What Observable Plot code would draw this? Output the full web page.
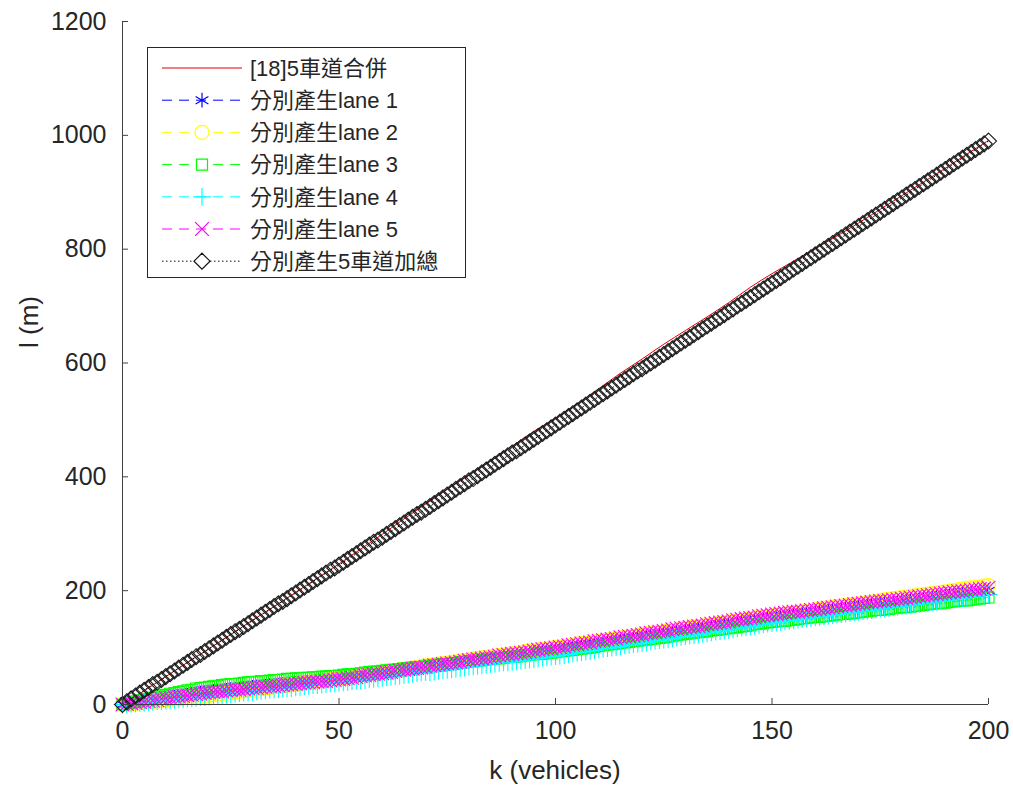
<!DOCTYPE html>
<html><head><meta charset="utf-8">
<script src="https://cdn.jsdelivr.net/npm/d3@7"></script>
<script src="https://cdn.jsdelivr.net/npm/@observablehq/plot@0.6"></script>
<style>
body{margin:0;background:#fff}
#chart{position:relative;width:1013px;height:791px;background:#fff}
</style>
</head><body><div id="chart"></div>
<script>
// ---- data ----
const kLanes = d3.range(0, 201, 1);      // k (vehicles) for lane series & sum
const kRed = d3.range(0, 201, 5);        // k (vehicles) for the [18] curve

const red18 = [0,24,49,74,98,123,148,172,197,222,247,273,299,326,352,378,403,428,454,480,503,528,555,582,607,633,657,681,706,733,757,779,801,823,846,870,894,918,942,967,991];

const lane1 = [0,1,2,3,4,6,7,8,9,10,11,
  12,13,14,15,16,18,19,20,21,22,
  23,24,24,25,26,27,27,28,29,30,
  31,31,32,33,33,34,35,36,36,37,
  38,39,39,40,41,42,42,43,44,45,
  46,47,48,49,50,51,52,53,54,55,
  56,57,58,60,61,62,63,64,65,66,
  67,68,69,70,71,72,73,74,75,76,
  77,78,79,80,81,82,83,85,86,87,
  88,89,90,91,92,93,94,95,96,97,
  98,99,100,101,103,104,105,106,107,108,
  109,110,111,112,113,114,116,117,118,119,
  120,121,122,123,124,125,126,128,129,130,
  131,132,133,134,135,136,138,139,140,141,
  142,143,144,145,146,147,149,150,151,152,
  153,154,155,156,157,158,159,160,161,162,
  162,163,164,165,166,167,168,169,170,171,
  172,173,174,175,176,177,178,179,180,181,
  182,183,183,184,185,186,187,188,189,190,
  191,192,193,194,195,196,197,198,199,200];
const lane2 = [0,1,2,2,3,4,5,6,6,7,8,
  9,10,10,11,12,13,13,14,15,16,
  17,18,19,20,21,22,23,24,25,26,
  27,28,29,30,31,32,33,34,35,36,
  37,38,39,40,41,42,43,44,45,46,
  47,48,49,50,51,52,54,55,56,57,
  58,59,60,61,62,63,64,65,67,68,
  69,70,71,72,73,74,75,76,77,78,
  80,81,82,83,84,85,86,87,88,89,
  90,91,93,94,95,96,97,98,99,100,
  101,102,103,104,106,107,108,109,110,111,
  112,113,115,116,117,118,119,120,121,122,
  124,125,126,127,128,129,130,131,133,134,
  135,136,137,138,139,140,142,143,144,145,
  146,147,148,149,151,152,153,154,155,156,
  157,158,159,160,161,162,163,164,165,166,
  168,169,170,171,172,173,174,175,176,177,
  178,179,180,181,183,184,185,186,187,188,
  189,190,191,192,193,194,195,196,197,198,
  199,200,202,203,204,205,206,207,208,209];
const lane3 = [0,2,3,5,7,9,10,12,14,16,17,
  19,20,22,23,25,26,28,29,30,31,
  32,33,34,35,36,36,37,38,39,39,
  40,41,41,42,43,43,44,45,45,46,
  46,47,47,48,48,49,49,50,50,51,
  52,53,53,54,55,56,57,58,58,59,
  60,61,61,62,63,64,65,66,66,67,
  68,69,70,71,71,72,73,74,75,76,
  76,77,78,79,80,81,81,82,83,84,
  84,85,86,87,88,89,89,90,91,92,
  93,94,95,96,97,98,99,100,101,103,
  104,105,106,107,108,109,110,111,112,113,
  114,115,116,117,118,119,120,122,123,124,
  125,126,127,128,129,130,131,132,133,134,
  135,136,137,138,139,141,142,143,144,145,
  146,147,147,148,149,150,151,152,153,154,
  154,155,156,157,158,159,159,160,161,162,
  163,164,165,166,166,167,168,169,170,171,
  171,172,173,174,175,176,177,178,178,179,
  180,181,182,183,183,184,185,186,187,188];
const lane4 = [0,0,1,2,3,3,4,5,6,6,7,
  7,8,9,10,11,11,12,13,13,14,
  15,16,16,17,18,19,20,21,21,22,
  23,24,25,26,26,27,28,29,29,30,
  31,32,33,34,34,35,36,37,37,38,
  39,40,41,42,42,43,44,45,46,47,
  48,49,50,51,52,53,54,55,56,57,
  57,58,59,60,61,62,63,64,65,66,
  67,68,69,70,71,72,73,74,74,75,
  76,77,78,79,80,81,82,83,84,85,
  86,87,88,90,91,92,93,94,95,97,
  98,99,100,101,102,104,105,106,107,108,
  109,111,112,113,114,115,116,118,119,120,
  121,122,123,124,125,127,128,129,130,131,
  132,134,135,136,137,138,139,141,142,143,
  144,145,146,147,148,149,150,151,152,153,
  154,155,156,157,158,159,160,161,162,163,
  164,165,166,167,168,169,170,171,172,173,
  174,175,176,177,178,179,180,181,182,183,
  184,185,186,187,188,189,190,191,192,193];
const lane5 = [0,1,2,3,4,5,6,7,8,10,11,
  12,13,14,15,16,17,18,19,20,21,
  22,23,23,24,25,26,26,27,28,29,
  29,30,31,32,32,33,34,35,35,36,
  37,38,38,39,40,41,41,42,43,44,
  45,46,47,48,50,51,52,53,54,55,
  56,57,59,60,61,62,63,64,65,66,
  68,69,70,71,72,73,74,75,77,78,
  79,80,81,82,83,84,86,87,88,89,
  90,91,92,93,95,96,97,98,99,100,
  101,102,104,105,106,107,108,109,111,112,
  113,114,115,116,118,119,120,121,122,123,
  125,126,127,128,129,130,132,133,134,135,
  136,137,138,139,141,142,143,144,145,146,
  148,149,150,151,152,153,155,156,157,158,
  159,160,161,162,163,163,164,165,166,167,
  168,169,170,171,172,173,174,175,176,177,
  178,179,180,181,182,182,183,184,185,186,
  187,188,189,190,191,192,193,194,195,196,
  197,198,199,199,200,201,202,203,204,205];
const laneSum = [0,5,10,15,20,25,30,35,39,44,49,
  54,59,64,69,74,79,84,88,93,98,
  103,108,113,118,123,128,132,137,142,147,
  152,157,162,167,172,177,181,186,191,196,
  201,206,211,216,221,226,231,236,240,245,
  250,255,260,265,270,275,280,285,289,294,
  299,304,309,314,319,324,329,334,338,343,
  348,353,358,363,368,373,378,383,388,393,
  397,402,407,412,417,422,427,432,437,442,
  446,451,456,461,466,471,476,481,486,491,
  496,501,506,511,516,521,526,531,536,541,
  546,551,556,561,566,571,576,581,586,590,
  595,600,605,610,615,620,625,630,635,640,
  645,650,655,660,665,670,675,680,685,690,
  695,700,705,710,715,720,725,730,735,740,
  745,750,755,760,765,770,775,780,785,790,
  795,800,805,810,815,820,825,830,835,840,
  845,850,855,860,865,870,875,880,885,890,
  895,900,905,910,915,920,925,930,935,940,
  945,950,955,960,965,970,975,980,985,990];

const xTicks = [0, 50, 100, 150, 200];
const yTicks = [0, 200, 400, 600, 800, 1000, 1200];
const seriesNames = ["[18]5車道合併","分別產生lane 1","分別產生lane 2","分別產生lane 3","分別產生lane 4","分別產生lane 5","分別產生5車道加總"];
const xLabel = "k (vehicles)";
const yLabel = "l (m)";

// ---- build ----
const FONT = '"Liberation Sans", Arial, "Noto Sans CJK TC", sans-serif';
const rows = (ks, vs) => ks.map((k, i) => ({k, l: vs[i]}));

const laneDefs = [
  {values: lane1, color: "#0000ff", symbol: "asterisk", r: 7},
  {values: lane2, color: "#ffff00", symbol: "circle", r: 7},
  {values: lane3, color: "#00ff00", symbol: "square2", r: 7},
  {values: lane4, color: "#00ffff", symbol: "plus", r: 5.8},
  {values: lane5, color: "#ff00ff", symbol: "times", r: 6.3}
];
const sumRows = rows(kLanes, laneSum);
const AX = "#404040";

const W = 1013, H = 791, ML = 122, MR = 25, MT = 21, MB = 87;
const frameW = W - ML - MR, frameH = H - MT - MB;

const svg = Plot.plot({
  width: W, height: H,
  marginLeft: ML, marginRight: MR, marginTop: MT, marginBottom: MB,
  style: {fontFamily: FONT, fontSize: "25px", color: "#262626", background: "#fff", overflow: "visible"},
  x: {domain: [0, 200], label: null},
  y: {domain: [0, 1200], label: null},
  marks: [
    Plot.line(rows(kRed, red18), {x: "k", y: "l", stroke: "#e00000", strokeWidth: 1, curve: "catmull-rom"}),
    ...laneDefs.flatMap(s => {
      const d = rows(kLanes, s.values);
      return [
        Plot.line(d, {x: "k", y: "l", stroke: s.color, strokeWidth: 0.8, strokeDasharray: "6,4"}),
        Plot.dot(d, {x: "k", y: "l", symbol: s.symbol, r: s.r, stroke: s.color, fill: "none", strokeWidth: 1.1})
      ];
    }),
    Plot.line(sumRows, {x: "k", y: "l", stroke: "black", strokeWidth: 1, strokeDasharray: "1,3"}),
    Plot.dot(sumRows, {x: "k", y: "l", symbol: "diamond2", r: 7.2, stroke: "#1a1a1a", fill: "none", strokeWidth: 1.1}),
    Plot.ruleX([0], {stroke: AX, strokeWidth: 1}),
    Plot.ruleY([0], {stroke: AX, strokeWidth: 1}),
    Plot.tickX(xTicks, {x: d => d, stroke: AX, insetTop: frameH - 6}),
    Plot.tickY(yTicks, {y: d => d, stroke: AX, insetRight: frameW - 6}),
    Plot.axisX({ticks: xTicks, tickSize: 0, tickPadding: 17, tickFormat: d => `${d}`}),
    Plot.axisY({ticks: yTicks, tickSize: 0, tickPadding: 16, tickFormat: d => `${d}`})
  ]
});

const s = d3.select(svg);
s.append("text").attr("x", 555).attr("y", 779).attr("text-anchor", "middle")
  .attr("fill", "#262626").style("font-size", "26px").style("font-family", FONT).text(xLabel);
s.append("text").attr("transform", "translate(38,322) rotate(-90)").attr("text-anchor", "middle")
  .attr("fill", "#262626").style("font-size", "26px").style("font-family", FONT).text(yLabel);

// ---- legend ----
const leg = s.append("g").attr("text-anchor", "start");
leg.append("rect").attr("x", 147.5).attr("y", 47.5).attr("width", 318).attr("height", 230)
  .attr("fill", "#fff").attr("stroke", "#262626").attr("stroke-width", 1);
const legendStyles = [
  {color: "#e00000", dash: null, symbol: null, r: 0},
  ...laneDefs.map(d => ({color: d.color, dash: "10,7", symbol: d.symbol, r: d.r})),
  {color: "#111", dash: "1.5,2.5", symbol: "diamond2", r: 7.2}
];
const symMap = {asterisk: d3.symbolAsterisk, circle: d3.symbolCircle, square2: d3.symbolSquare2,
  plus: d3.symbolPlus, times: d3.symbolTimes, diamond2: d3.symbolDiamond2};
seriesNames.forEach((name, i) => {
  const y = 68 + i * 32.2;
  const st = legendStyles[i];
  leg.append("line").attr("x1", 162).attr("x2", 242).attr("y1", y).attr("y2", y)
    .attr("stroke", st.color).attr("stroke-width", 1).attr("stroke-dasharray", st.dash);
  if (st.symbol) {
    leg.append("path").attr("d", d3.symbol(symMap[st.symbol], st.r * st.r * Math.PI)())
      .attr("transform", `translate(202,${y})`).attr("fill", "#fff")
      .attr("stroke", st.color).attr("stroke-width", 1.2);
  }
  leg.append("text").attr("x", 250).attr("y", y).attr("dy", "0.35em").attr("text-anchor", "start")
    .attr("fill", "#262626").style("font-size", "22px").style("font-family", FONT).text(name);
});

document.getElementById("chart").appendChild(svg);
</script>
</body></html>
